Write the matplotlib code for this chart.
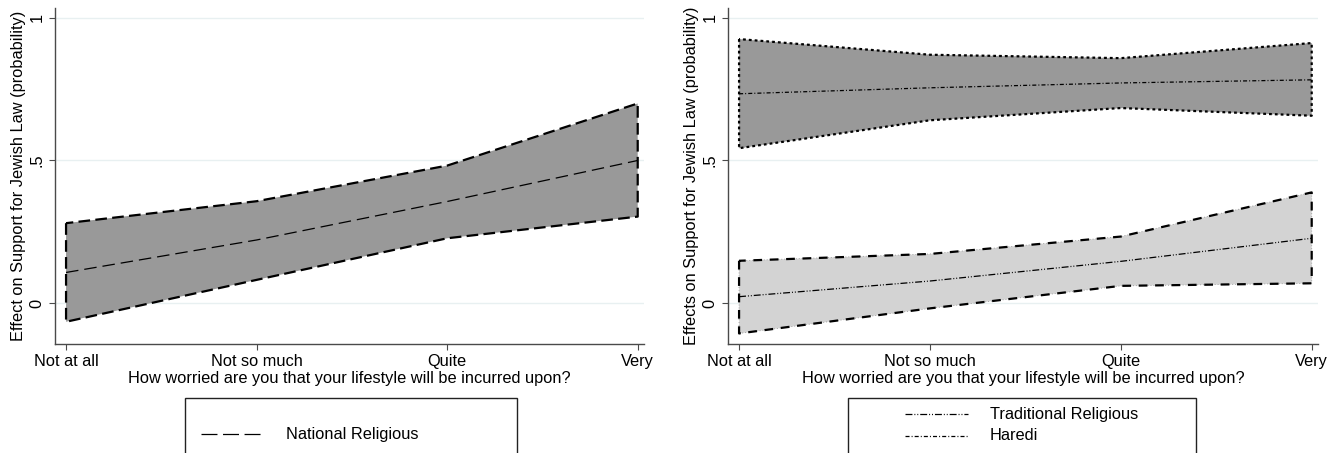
import matplotlib
matplotlib.use("Agg")
import matplotlib.pyplot as plt
from matplotlib.patches import Rectangle
from matplotlib.lines import Line2D

plt.rcParams['font.family'] = ['Liberation Sans', 'DejaVu Sans']
plt.rcParams['lines.scale_dashes'] = False

# ---------------- data ----------------
categories = ["Not at all", "Not so much", "Quite", "Very"]
x_pos = [0, 1, 2, 3]

nat_mean = [0.107, 0.221, 0.356, 0.500]
nat_hi = [0.280, 0.357, 0.482, 0.700]
nat_lo = [-0.066, 0.081, 0.227, 0.303]

trad_mean = [0.022, 0.077, 0.146, 0.227]
trad_hi = [0.148, 0.172, 0.233, 0.388]
trad_lo = [-0.107, -0.019, 0.060, 0.069]

har_mean = [0.734, 0.755, 0.772, 0.783]
har_hi = [0.926, 0.871, 0.859, 0.912]
har_lo = [0.543, 0.641, 0.684, 0.657]

ytick_vals = [0, 0.5, 1]
ytick_labels = ["0", ".5", "1"]
xlabel = "How worried are you that your lifestyle will be incurred upon?"
ylabel_left = "Effect on Support for Jewish Law (probability)"
ylabel_right = "Effects on Support for Jewish Law (probability)"

# ---------------- styles ----------------
W, H = 1327, 453
DARK = '#999999'
LIGHT = '#d3d3d3'
GRID = '#e8f0f1'
SPINE = '#4a4a4a'
FS = 11.8

nat_mean_ls = (0, (9.0, 4.3))
nat_band_ls = (0, (8.4, 3.8))
har_band_ls = (0, (2.0, 2.2))
har_mean_ls = (0, (2.9, 1.5, 0.7, 1.5))
trad_band_ls = (0, (6.3, 5.5))
trad_mean_ls = (0, (5.0, 1.4, 0.7, 1.4, 0.7, 1.4))
dot_ls = (0, (0.7, 1.4))

fig = plt.figure(figsize=(W / 100, H / 100), dpi=100)


def px_axes(l, r, t, b):
    return fig.add_axes([l / W, 1 - b / H, (r - l) / W, (b - t) / H])


def style_axes(ax, ylabel):
    ax.set_xlim(-0.058, 3.033)
    ax.set_ylim(-0.144, 1.035)
    for s in ['top', 'right']:
        ax.spines[s].set_visible(False)
    for s in ['left', 'bottom']:
        ax.spines[s].set_color(SPINE)
        ax.spines[s].set_linewidth(1.0)
    ax.set_xticks(x_pos)
    ax.set_xticklabels(categories, fontsize=FS)
    ax.set_yticks(ytick_vals)
    ax.set_yticklabels(ytick_labels, fontsize=FS, rotation=90, va='center')
    ax.tick_params(axis='both', direction='out', length=4.3, width=0.8,
                   color=SPINE, pad=3)
    for yv in ytick_vals:
        ax.axhline(yv, color=GRID, lw=1.0, zorder=0)
    ax.set_xlabel(xlabel, fontsize=FS, labelpad=1)
    ax.set_ylabel(ylabel, fontsize=FS, labelpad=3)


def band(ax, lo, hi, face, ls, lw=1.6, dots=False):
    ax.fill_between(x_pos, lo, hi, facecolor=face, edgecolor='none', zorder=1)
    if dots:
        ax.fill_between(x_pos, lo, hi, facecolor='none', edgecolor='#9a9a9a',
                        linewidth=0.6, linestyle=dot_ls, zorder=2)
    ax.fill_between(x_pos, lo, hi, facecolor='none', edgecolor='black',
                    linewidth=lw, linestyle=ls, zorder=3)


# ---------------- left panel ----------------
axL = px_axes(55, 644, 8, 344)
style_axes(axL, ylabel_left)
band(axL, nat_lo, nat_hi, DARK, nat_band_ls)
axL.plot(x_pos, nat_mean, color='black', lw=0.9, linestyle=nat_mean_ls, zorder=4)

# ---------------- right panel ----------------
axR = px_axes(728, 1318, 8, 344)
style_axes(axR, ylabel_right)
band(axR, trad_lo, trad_hi, LIGHT, trad_band_ls, dots=True)
band(axR, har_lo, har_hi, DARK, har_band_ls, dots=True)
axR.plot(x_pos, trad_mean, color='black', lw=0.9, linestyle=trad_mean_ls, zorder=4)
axR.plot(x_pos, har_mean, color='black', lw=0.9, linestyle=har_mean_ls, zorder=4)


# ---------------- legends (drawn in figure pixels) ----------------
def fx(px):
    return px / W


def fy(py):
    return 1 - py / H


def legend_box(l, r, t, entries):
    fig.add_artist(Rectangle((fx(l), fy(t + 80)), fx(r - l), (80) / H,
                             facecolor='white', edgecolor='#222222',
                             linewidth=1.0, transform=fig.transFigure,
                             clip_on=False))
    for (x0, x1, xt, yy, ls, label) in entries:
        fig.add_artist(Line2D([fx(x0), fx(x1)], [fy(yy), fy(yy)],
                              color='black', lw=0.9, linestyle=ls,
                              transform=fig.transFigure))
        fig.text(fx(xt), fy(yy), label, fontsize=FS, va='center', ha='left')


legend_box(185, 517, 398,
           [(201, 264, 286, 434, (0, (11.5, 4.0)), "National Religious")])
legend_box(848, 1196, 398,
           [(905, 968, 990, 414, trad_mean_ls, "Traditional Religious"),
            (905, 968, 990, 436, har_mean_ls, "Haredi")])

fig.savefig("out.png", dpi=100)
